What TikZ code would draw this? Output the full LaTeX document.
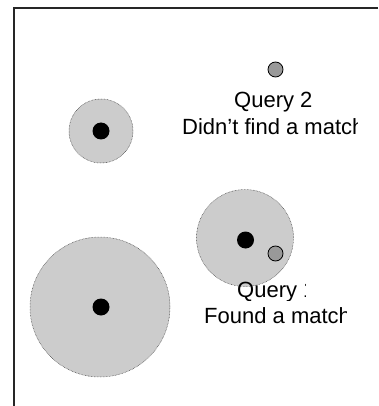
\documentclass[tikz,border=0pt]{standalone}
\usepackage{fontspec}
\setmainfont{Liberation Sans}
\begin{document}
\begin{tikzpicture}[x=1pt,y=-1pt,
  zone/.style={circle,fill=black!20,draw=black!75,line width=0.5pt,dash pattern=on 0.6pt off 0.9pt,inner sep=0pt},
  site/.style={circle,fill=black,inner sep=0pt,minimum size=17pt},
  qry/.style={circle,fill=black!40,draw=black,line width=0.8pt,inner sep=0pt,minimum size=15pt},
  lbl/.style={anchor=base west,inner sep=0pt,font=\fontsize{22}{26}\selectfont}]
\useasboundingbox (0,0) rectangle (378,406);
\fill[white] (0,0) rectangle (378,406);
% frame
\coordinate (tl) at (14,8);
\coordinate (tr) at (378,8);
\coordinate (bl) at (14,406);
\draw[line width=1.4pt,black!85] (tr) -- (tl) -- (bl);
% zones
\node[zone,minimum size=64pt] (z1) at (101,131) {};
\node[zone,minimum size=140pt] (z2) at (100,307) {};
\node[zone,minimum size=97pt] (z3) at (245,238) {};
% sites
\node[site] (s1) at (101,131) {};
\node[site] (s2) at (101,307) {};
\node[site] (s3) at (245.5,240) {};
% queries
\node[qry] (q2) at (275.5,69.5) {};
\node[qry] (q1) at (275.5,253.5) {};
% labels
\node[lbl] (t2a) at (234,108) {Query 2};
\begin{scope}
\clip (150,110) rectangle (357.5,145);
\node[lbl] (t2b) at (182,135) {Didn't find a match};
\end{scope}
\begin{scope}
\clip (200,270) rectangle (305.5,300);
\node[lbl] (t1a) at (237,297) {Query 1};
\end{scope}
\begin{scope}
\clip (190,300) rectangle (346,330);
\node[lbl] (t1b) at (204,323) {Found a match};
\end{scope}
\end{tikzpicture}
\end{document}
